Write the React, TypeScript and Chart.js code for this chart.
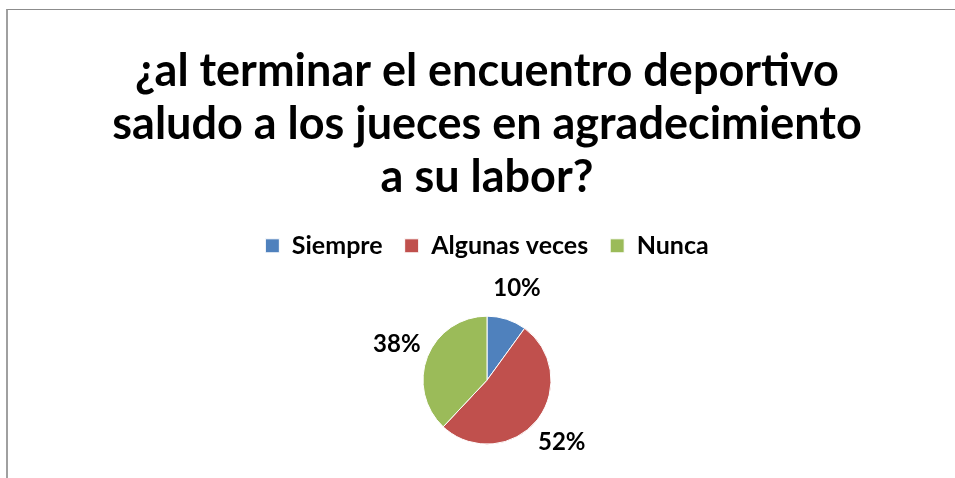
import React, { useEffect, useRef } from "react";
import { Chart, registerables } from "chart.js";

Chart.register(...registerables);

const titleLines = [
  "¿al terminar el encuentro deportivo",
  "saludo a los jueces en agradecimiento",
  "a su labor?",
];
const categories = ["Siempre", "Algunas veces", "Nunca"];
const values = [10, 52, 38];
const colors = ["#4F81BD", "#C0504D", "#9BBB59"];

const FONT = "Lato, 'Open Sans', sans-serif";

const outsideLabels = {
  id: "outsideLabels",
  afterDatasetsDraw(chart: any) {
    const ctx = chart.ctx;
    const meta = chart.getDatasetMeta(0);
    const data = chart.data.datasets[0].data as number[];
    const total = data.reduce((a: number, b: number) => a + b, 0);
    ctx.save();
    ctx.font = `bold 24px ${FONT}`;
    ctx.fillStyle = "#000";
    ctx.textAlign = "center";
    ctx.textBaseline = "middle";
    meta.data.forEach((arc: any, i: number) => {
      const { x, y, startAngle, endAngle, outerRadius } = arc.getProps(
        ["x", "y", "startAngle", "endAngle", "outerRadius"],
        true
      );
      const mid = (startAngle + endAngle) / 2;
      const r = outerRadius + 33;
      const pct = Math.round((data[i] / total) * 100) + "%";
      ctx.fillText(pct, x + Math.cos(mid) * r, y + Math.sin(mid) * r);
    });
    ctx.restore();
  },
};

export default function App() {
  const ref = useRef<HTMLCanvasElement>(null);
  useEffect(() => {
    if (!ref.current) return;
    const chart = new Chart(ref.current, {
      type: "pie",
      data: {
        labels: categories,
        datasets: [
          {
            data: values,
            backgroundColor: colors,
            borderColor: "#ffffff",
            borderWidth: 1,
          },
        ],
      },
      options: {
        animation: false,
        responsive: true,
        maintainAspectRatio: false,
        radius: 64,
        layout: { padding: { top: 0, bottom: 1, left: 0, right: 0 } },
        plugins: {
          title: {
            display: true,
            text: titleLines,
            color: "#000",
            font: { family: FONT, size: 45, weight: "bold", lineHeight: 1.18 },
            padding: { top: 36, bottom: 7 },
          },
          legend: {
            display: true,
            position: "top",
            labels: {
              color: "#000",
              font: { family: FONT, size: 25, weight: "bold" },
              boxWidth: 14,
              boxHeight: 14,
              padding: 22,
            },
          },
          tooltip: { enabled: false },
        },
      } as any,
      plugins: [outsideLabels],
    });
    return () => chart.destroy();
  }, []);

  return (
    <div
      style={{
        position: "fixed",
        left: 0,
        top: 0,
        width: 955,
        height: 478,
        overflow: "hidden",
        background: "#fff",
      }}
    >
      <div
        style={{
          position: "absolute",
          left: 6,
          top: 9,
          width: 962,
          height: 484,
          borderTop: "1px solid #8c8c8c",
          borderLeft: "2px solid #a0a0a0",
          boxSizing: "border-box",
        }}
      />
      <div
        style={{
          position: "absolute",
          left: 6,
          top: 9,
          width: 962,
          height: 484,
        }}
      >
        <canvas ref={ref} />
      </div>
    </div>
  );
}
